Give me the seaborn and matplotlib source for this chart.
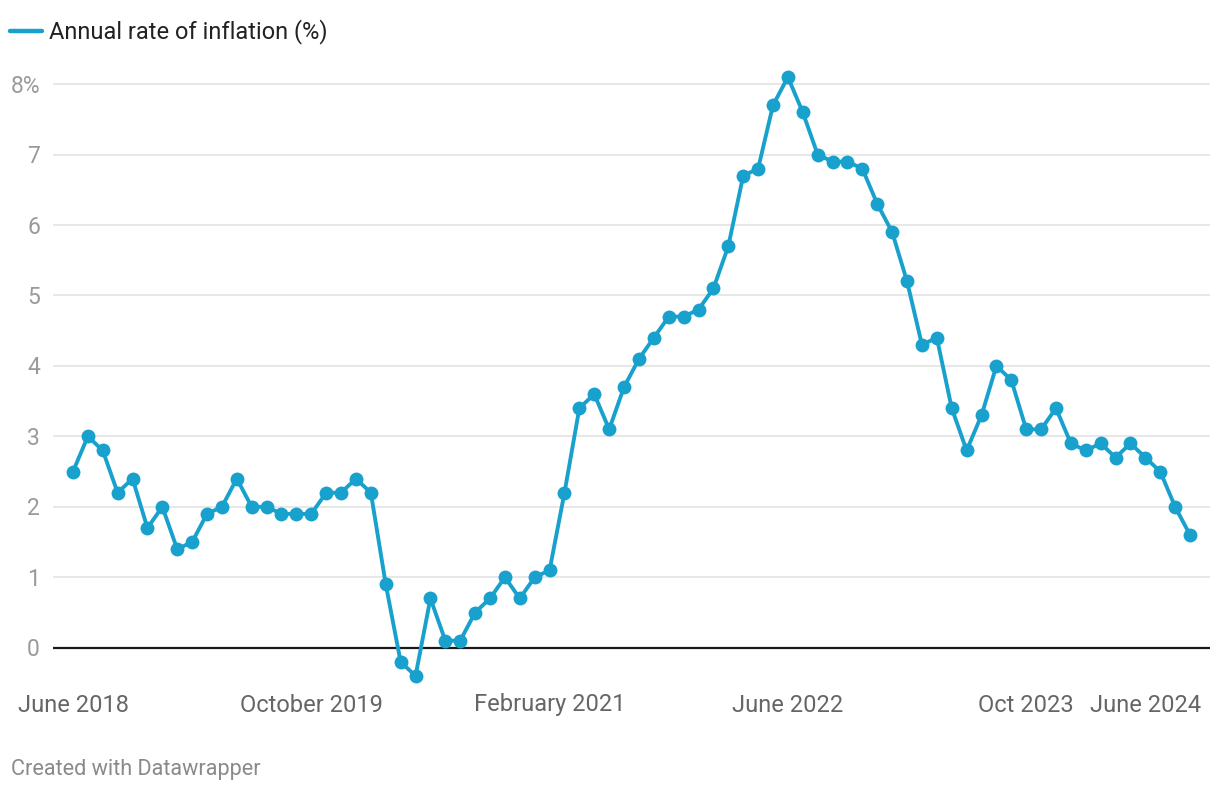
import pandas as pd
import matplotlib.pyplot as plt
import seaborn as sns
from matplotlib.transforms import ScaledTranslation

# Monthly annual inflation rate, June 2018 - September 2024
months = pd.date_range('2018-06-01', '2024-09-01', freq='MS')
inflation = [
    2.5, 3.0, 2.8, 2.2, 2.4, 1.7, 2.0,            # Jun-Dec 2018
    1.4, 1.5, 1.9, 2.0, 2.4, 2.0, 2.0, 1.9, 1.9, 1.9, 2.2, 2.2,   # 2019
    2.4, 2.2, 0.9, -0.2, -0.4, 0.7, 0.1, 0.1, 0.5, 0.7, 1.0, 0.7,  # 2020
    1.0, 1.1, 2.2, 3.4, 3.6, 3.1, 3.7, 4.1, 4.4, 4.7, 4.7, 4.8,    # 2021
    5.1, 5.7, 6.7, 6.8, 7.7, 8.1, 7.6, 7.0, 6.9, 6.9, 6.8, 6.3,    # 2022
    5.9, 5.2, 4.3, 4.4, 3.4, 2.8, 3.3, 4.0, 3.8, 3.1, 3.1, 3.4,    # 2023
    2.9, 2.8, 2.9, 2.7, 2.9, 2.7, 2.5, 2.0, 1.6,                   # Jan-Sep 2024
]
tick_labels = ['June 2018', 'October 2019', 'February 2021', 'June 2022', 'Oct 2023', 'June 2024']
tick_months = ['2018-06', '2019-10', '2021-02', '2022-06', '2023-10', '2024-06']
y_ticks = [0, 1, 2, 3, 4, 5, 6, 7, 8]

df = pd.DataFrame({'month': months, 'rate': inflation})
df['idx'] = range(len(df))

sns.set_theme(style='white')
plt.rcParams['font.family'] = ['Roboto', 'DejaVu Sans']

blue = '#18a1cd'

fig = plt.figure(figsize=(12.2, 7.94), dpi=100)
ax = fig.add_axes([53 / 1220, 1 - 690 / 794, (1210 - 53) / 1220, (690 - 63) / 794])

# gridlines
for v in y_ticks:
    if v == 0:
        ax.axhline(0, color='#1a1a1a', lw=1.6, zorder=2)
    else:
        ax.axhline(v, color='#e3e3e3', lw=1.2, zorder=1)

sns.lineplot(data=df, x='idx', y='rate', ax=ax, color=blue, lw=2.8,
             marker='o', markersize=10, markeredgewidth=0, zorder=3, clip_on=False)

ax.set_xlim(-1.34, len(df) - 1 + 1.34)
ax.set_ylim(-0.6, 8.3)
for s in ax.spines.values():
    s.set_visible(False)
ax.set_xlabel('')
ax.set_ylabel('')
ax.set_yticks([])
ax.set_xticks([])

# small downward nudge so the text sits like the original
nudge = ScaledTranslation(0, -2 / 100, fig.dpi_scale_trans)

# y tick labels, right aligned outside the plot
fig_y = ax.get_yaxis_transform().__class__(fig.transFigure, ax.transData) + nudge
for v in y_ticks:
    lab = f'{v}%' if v == 8 else str(v)
    ax.text(40 / 1220, v, lab, transform=fig_y,
            ha='right', va='center', fontsize=16.5, color='#9a9a9a')

# x tick labels
x_fig = ax.get_xaxis_transform().__class__(ax.transData, fig.transFigure) + nudge
month_idx = {m.strftime('%Y-%m'): i for i, m in enumerate(df['month'])}
for lab, m in zip(tick_labels, tick_months):
    ax.text(month_idx[m], 1 - 703 / 794, lab, transform=x_fig,
            ha='center', va='center', fontsize=17, color='#666666')

# legend
fig.add_artist(plt.Line2D([10 / 1220, 42 / 1220], [1 - 31 / 794, 1 - 31 / 794],
                          color=blue, lw=3.2, solid_capstyle='round'))
fig.text(49 / 1220, 1 - 32 / 794, 'Annual rate of inflation (%)', ha='left', va='center',
         fontsize=17, color='#222222')

# footer
fig.text(11 / 1220, 1 - 770 / 794, 'Created with Datawrapper', ha='left', va='center',
         fontsize=15.6, color='#8a8a8a')

fig.savefig('out.png', dpi=100, facecolor='white')
